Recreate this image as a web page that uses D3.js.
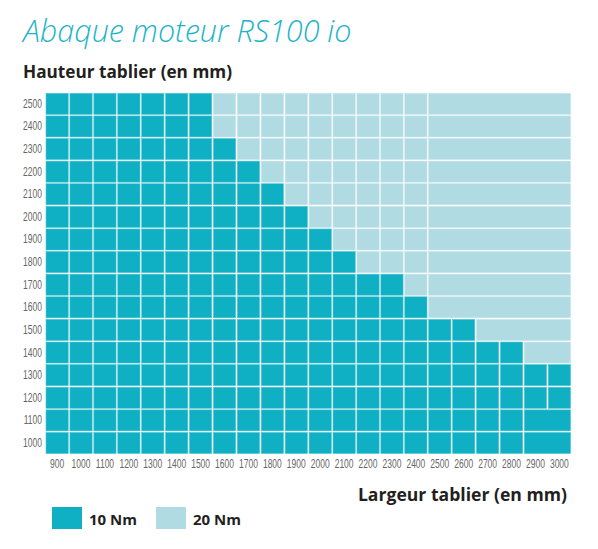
<!DOCTYPE html>
<html>
<head>
<meta charset="utf-8">
<script src="https://cdn.jsdelivr.net/npm/d3@7"></script>
<style>
  body { margin: 0; background: #fff; }
  svg { display: block; }
</style>
</head>
<body>
<div id="chart"></div>
<script>
// largeurs (colonnes) et hauteurs (lignes) du tablier, en mm
const widths = [900, 1000, 1100, 1200, 1300, 1400, 1500, 1600, 1700, 1800, 1900,
                2000, 2100, 2200, 2300, 2400, 2500, 2600, 2700, 2800, 2900, 3000];
const heights = [1000, 1100, 1200, 1300, 1400, 1500, 1600, 1700,
                 1800, 1900, 2000, 2100, 2200, 2300, 2400, 2500];
// largeur max admise en 10 Nm pour chaque hauteur (au-dela : 20 Nm)
const limit10 = [3000, 3000, 3000, 3000, 2800, 2600, 2400, 2300,
                 2100, 2000, 1900, 1800, 1700, 1600, 1500, 1500];
// cases fusionnees : [hauteur, largeur debut, largeur fin]
const merged = [
  [1000, 2900, 3000], [1100, 2900, 3000],
  [1400, 2900, 3000], [1500, 2700, 3000],
  [1600, 2500, 3000], [1700, 2500, 3000], [1800, 2500, 3000], [1900, 2500, 3000],
  [2000, 2500, 3000], [2100, 2500, 3000], [2200, 2500, 3000], [2300, 2500, 3000],
  [2400, 2500, 3000], [2500, 2500, 3000]
];
const legendItems = ["10 Nm", "20 Nm"];

const W = 598, H = 549;
const colors = { 10: "#0fb0c3", 20: "#b1dbe3" };

const svg = d3.select("#chart").append("svg")
  .attr("width", W)
  .attr("height", H);

const x = d3.scaleBand()
  .domain(widths)
  .range([46, 570.5])
  .paddingInner(0.07)
  .paddingOuter(0);

const y = d3.scaleBand()
  .domain(heights.slice().reverse())
  .range([93.3, 453.5])
  .paddingInner(0.07)
  .paddingOuter(0);

function torque(h, w) {
  return w <= limit10[heights.indexOf(h)] ? 10 : 20;
}

// construit la liste des cases (simples ou fusionnees)
const cells = [];
heights.forEach(h => {
  const spans = merged.filter(m => m[0] === h);
  widths.forEach(w => {
    const span = spans.find(m => w >= m[1] && w <= m[2]);
    if (span && w !== span[1]) return;
    const wEnd = span ? span[2] : w;
    cells.push({ h: h, w0: w, w1: wEnd, t: torque(h, w) });
  });
});

svg.append("g")
  .selectAll("rect")
  .data(cells)
  .join("rect")
  .attr("x", d => x(d.w0))
  .attr("y", d => y(d.h))
  .attr("width", d => x(d.w1) + x.bandwidth() - x(d.w0))
  .attr("height", y.bandwidth())
  .attr("fill", d => colors[d.t])
  .attr("stroke", d => d.t === 10 ? "#4fc5d3" : "#c6e5eb")
  .attr("stroke-width", 0.6);

// axes : chiffres etroits (condenses) comme sur l'original
function narrow(sel) {
  sel.attr("font-family", "'Liberation Sans', Arial, sans-serif")
    .attr("font-size", 12.5)
    .attr("fill", "#666")
    .attr("transform", "scale(0.68,1)");
}

const yAxis = svg.append("g")
  .attr("transform", "translate(42,0)")
  .call(d3.axisLeft(y).tickSize(0).tickPadding(0));
yAxis.select(".domain").remove();
yAxis.selectAll(".tick text").call(narrow).attr("x", 0);

const xAxis = svg.append("g")
  .attr("transform", "translate(0,459)")
  .call(d3.axisBottom(x).tickSize(0).tickPadding(0));
xAxis.select(".domain").remove();
xAxis.selectAll(".tick text").call(narrow).attr("dy", "0.71em");

// titres
svg.append("text")
  .attr("x", 23)
  .attr("y", 42)
  .attr("font-family", "'Open Sans', sans-serif")
  .attr("font-style", "italic")
  .attr("font-weight", 300)
  .attr("font-size", 30.5)
  .attr("fill", "#1eb4c7")
  .text("Abaque moteur RS100 io");

svg.append("text")
  .attr("x", 23)
  .attr("y", 78)
  .attr("font-family", "'Open Sans', sans-serif")
  .attr("font-weight", 700)
  .attr("font-size", 17.2)
  .attr("fill", "#231f20")
  .text("Hauteur tablier (en mm)");

svg.append("text")
  .attr("x", 567)
  .attr("y", 501)
  .attr("text-anchor", "end")
  .attr("font-family", "'Open Sans', sans-serif")
  .attr("font-weight", 700)
  .attr("font-size", 17.6)
  .attr("fill", "#231f20")
  .text("Largeur tablier (en mm)");

// legende
const legend = svg.append("g")
  .selectAll("g")
  .data(legendItems)
  .join("g")
  .attr("transform", (d, i) => `translate(${52 + i * 104},507)`);

legend.append("rect")
  .attr("width", 30)
  .attr("height", 22)
  .attr("fill", (d, i) => i === 0 ? colors[10] : colors[20]);

legend.append("text")
  .attr("x", 37)
  .attr("y", 18)
  .attr("font-family", "'Open Sans', sans-serif")
  .attr("font-weight", 700)
  .attr("font-size", 15)
  .attr("fill", "#231f20")
  .text(d => d);
</script>
</body>
</html>
